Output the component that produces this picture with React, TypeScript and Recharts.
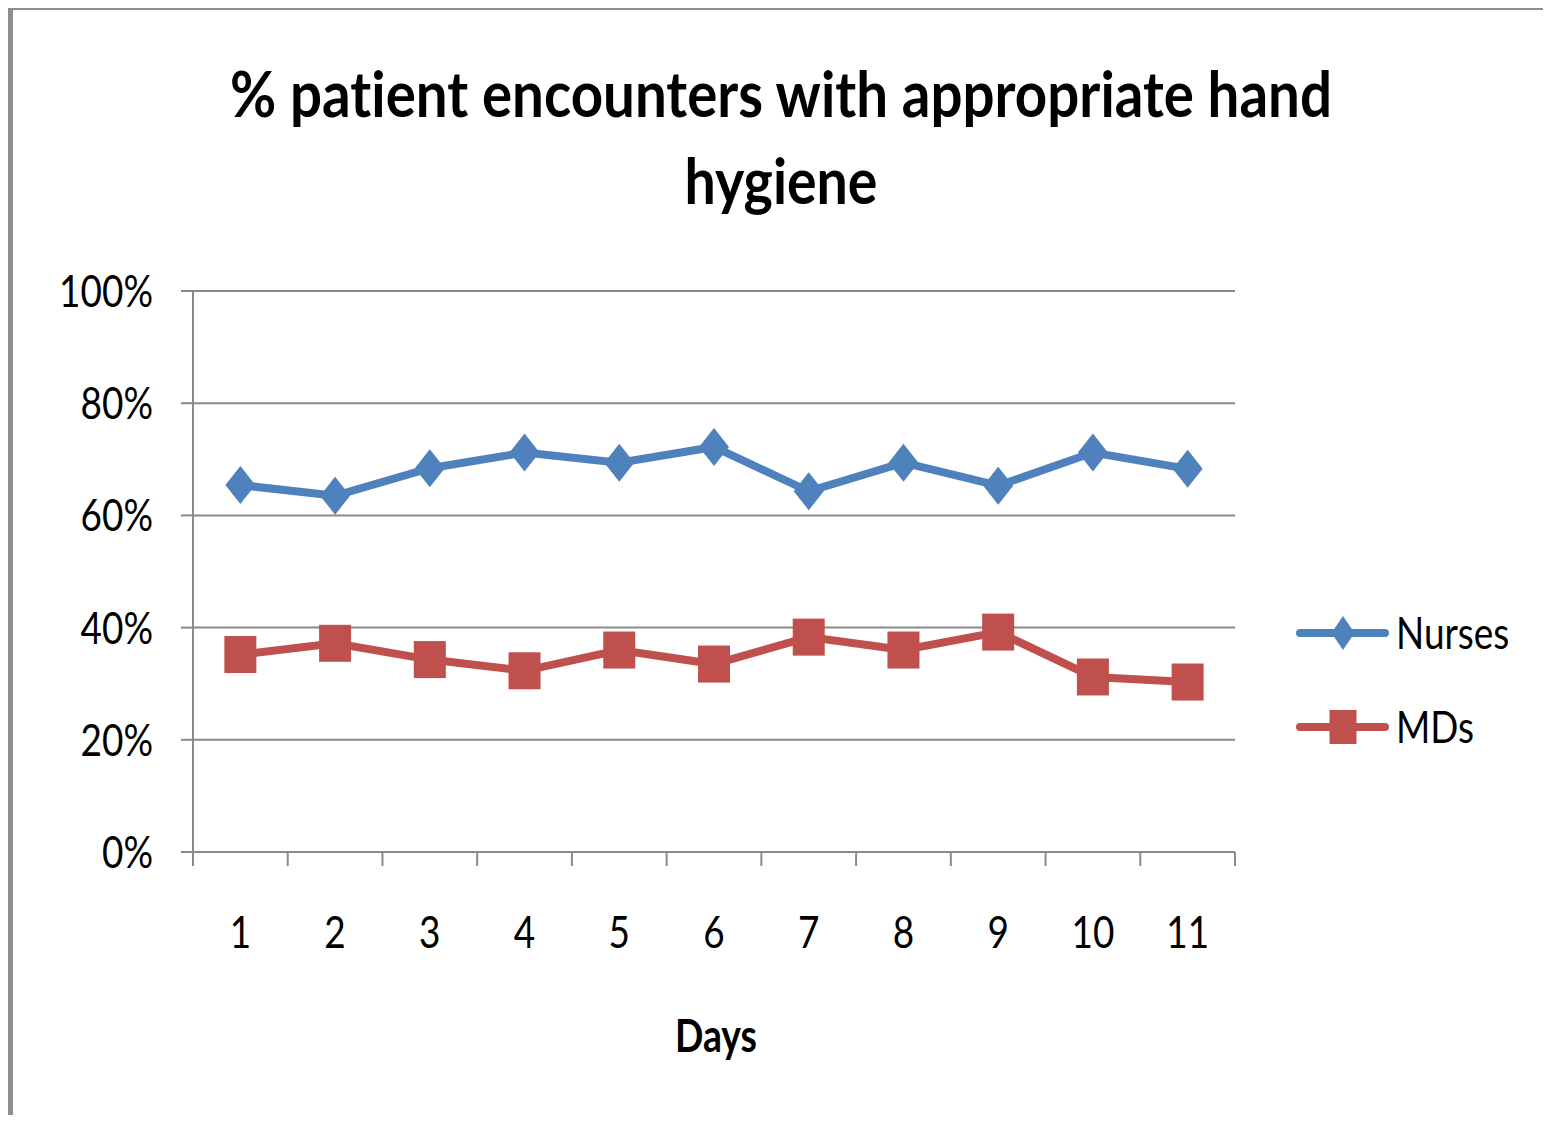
import { LineChart, Line, XAxis, YAxis, CartesianGrid, Legend } from "recharts";

const days = ["1", "2", "3", "4", "5", "6", "7", "8", "9", "10", "11"];
const nurses = [65.4, 63.5, 68.4, 71.2, 69.4, 72.2, 64.3, 69.4, 65.3, 71.2, 68.3];
const mds = [35.2, 37.2, 34.3, 32.3, 36.0, 33.5, 38.3, 36.0, 39.2, 31.2, 30.3];
const yTicks = [0, 20, 40, 60, 80, 100];

const series = [
  { key: "nurses", name: "Nurses", color: "#4F81BD", shape: "diamond" },
  { key: "mds", name: "MDs", color: "#C0504D", shape: "square" },
];

const data = days.map((d, i) => ({ day: d, nurses: nurses[i], mds: mds[i] }));

const W = 1551;
const H = 1123;
const PLOT_LEFT = 193;
const PLOT_RIGHT = 1235;
const PLOT_TOP = 291;
const PLOT_BOTTOM = 852;
const PLOT_W = PLOT_RIGHT - PLOT_LEFT;
const X_AXIS_H = 200;
const LEGEND_W = 250;
const FONT = "Lato, 'Open Sans', sans-serif";
const GRID = "#8a8a8a";
const SX = 0.84;
const X_TICK = 14;
const noLig = { fontVariantLigatures: "none" as const };

const Marker = ({ cx, cy, color, shape, w, h }: any) => {
  if (shape === "diamond") {
    return (
      <polygon
        points={`${cx},${cy - h / 2} ${cx + w / 2},${cy} ${cx},${cy + h / 2} ${cx - w / 2},${cy}`}
        fill={color}
      />
    );
  }
  return <rect x={cx - w / 2} y={cy - h / 2} width={w} height={h} fill={color} />;
};

const YTick = (props: any) => {
  const { x, y, payload } = props;
  return (
    <g transform={`translate(${x},${y})`}>
      <text
        transform={`scale(${SX},1)`}
        x={0}
        y={16}
        textAnchor="end"
        fontFamily={FONT}
        fontSize={44}
        fill="#000">
        {`${payload.value}%`}
      </text>
    </g>
  );
};

const XTick = (props: any) => {
  const { x, y, payload, index } = props;
  const bw = PLOT_W / days.length;
  return (
    <g>
      <line x1={x - bw / 2} x2={x - bw / 2} y1={y - X_TICK} y2={y} stroke={GRID} strokeWidth={2} />
      {index === days.length - 1 && (
        <line x1={x + bw / 2} x2={x + bw / 2} y1={y - X_TICK} y2={y} stroke={GRID} strokeWidth={2} />
      )}
      <g transform={`translate(${x},${y + 82})`}>
        <text transform={`scale(${SX},1)`} textAnchor="middle" fontFamily={FONT} fontSize={44} fill="#000">
          {payload.value}
        </text>
      </g>
    </g>
  );
};

const DaysLabel = (props: any) => {
  const vb = props.viewBox || {};
  return (
    <text
      x={vb.x + vb.width / 2 + 2}
      y={vb.y + 200}
      textAnchor="middle"
      textLength={82}
      lengthAdjust="spacingAndGlyphs"
      fontFamily={FONT}
      fontWeight={700}
      fontSize={46}
      fill="#000">
      Days
    </text>
  );
};

const LegendBox = () => (
  <svg width={LEGEND_W} height={160} style={{ display: "block" }}>
    {series.map((s, i) => {
      const cy = 33 + i * 94;
      return (
        <g key={s.key}>
          <line x1={4} x2={89} y1={cy} y2={cy} stroke={s.color} strokeWidth={8} strokeLinecap="round" />
          <Marker
            cx={47}
            cy={cy}
            color={s.color}
            shape={s.shape}
            w={s.shape === "diamond" ? 23 : 27}
            h={s.shape === "diamond" ? 34 : 34}
          />
          <g transform={`translate(100,${cy + 16})`}>
            <text transform={`scale(${SX},1)`} fontFamily={FONT} fontSize={44} fill="#000">
              {s.name}
            </text>
          </g>
        </g>
      );
    })}
  </svg>
);

export default function App() {
  return (
    <div
      style={{
        position: "relative",
        width: W,
        height: H,
        margin: -8,
        overflow: "hidden",
        background: "#fff",
      }}>
      <div
        style={{
          position: "absolute",
          left: 8,
          top: 5,
          width: 1700,
          height: 1300,
          border: "5px solid #8e8e8e",
        }}
      />
      <svg width={W} height={260} style={{ position: "absolute", left: 0, top: 0 }}>
        <text
          x={781}
          y={117}
          textAnchor="middle"
          textLength={1102}
          lengthAdjust="spacingAndGlyphs"
          fontFamily={FONT}
          fontWeight={700}
          fontSize={64}
          style={noLig}
          fill="#000">
          % patient encounters with appropriate hand
        </text>
        <text
          x={781}
          y={204}
          textAnchor="middle"
          textLength={193}
          lengthAdjust="spacingAndGlyphs"
          fontFamily={FONT}
          fontWeight={700}
          fontSize={64}
          style={noLig}
          fill="#000">
          hygiene
        </text>
      </svg>
      <div style={{ position: "absolute", left: 0, top: 0 }}>
        <LineChart
          width={W}
          height={H}
          data={data}
          margin={{
            top: PLOT_TOP,
            right: W - PLOT_RIGHT - LEGEND_W,
            bottom: H - PLOT_BOTTOM - X_AXIS_H,
            left: 0,
          }}>
          <CartesianGrid vertical={false} stroke={GRID} strokeWidth={2} />
          <XAxis
            dataKey="day"
            scale="band"
            height={X_AXIS_H}
            stroke={GRID}
            strokeWidth={2}
            tickLine={false}
            tickSize={X_TICK}
            tickMargin={0}
            tick={XTick}
            interval={0}
            label={DaysLabel}
          />
          <YAxis
            width={PLOT_LEFT}
            domain={[0, 100]}
            ticks={yTicks}
            stroke={GRID}
            strokeWidth={2}
            tickSize={12}
            tickMargin={28}
            tickLine={{ stroke: GRID, strokeWidth: 2 }}
            tick={YTick}
            interval={0}
          />
          <Legend
            layout="vertical"
            align="right"
            verticalAlign="middle"
            content={LegendBox}
            wrapperStyle={{ left: 1296, top: 600, width: LEGEND_W, height: 160 }}
          />
          {series.map((s) => (
            <Line
              key={s.key}
              dataKey={s.key}
              name={s.name}
              stroke={s.color}
              strokeWidth={8}
              isAnimationActive={false}
              dot={(p: any) => (
                <Marker
                  key={`${s.key}-${p.index}`}
                  cx={p.cx}
                  cy={p.cy}
                  color={s.color}
                  shape={s.shape}
                  w={s.shape === "diamond" ? 30 : 32}
                  h={s.shape === "diamond" ? 38 : 37}
                />
              )}
              activeDot={false}
            />
          ))}
        </LineChart>
      </div>
    </div>
  );
}
